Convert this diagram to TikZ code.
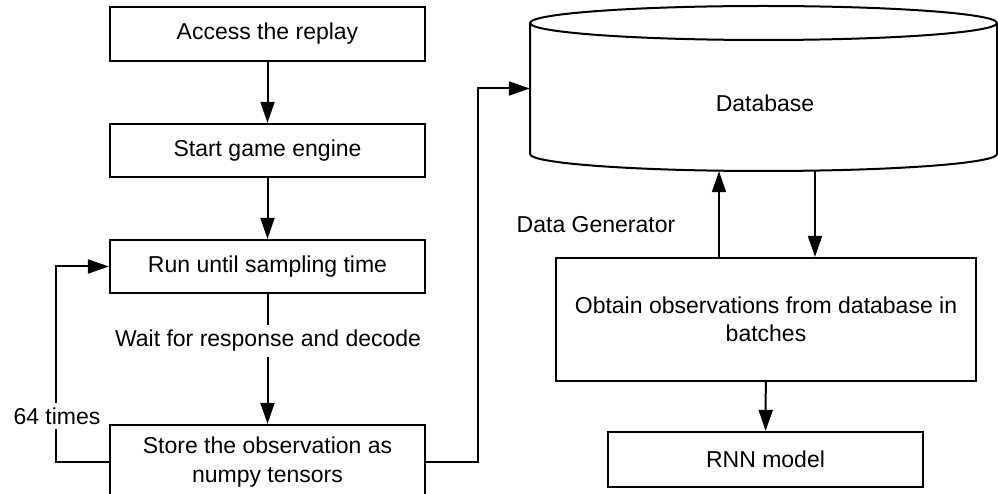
\documentclass[tikz,border=0pt]{standalone}
\usepackage{fontspec}
\setmainfont{Liberation Sans}
\usetikzlibrary{arrows.meta}
\begin{document}
\begin{tikzpicture}[x=1pt,y=-1pt,
  txt/.style={font=\fontsize{23}{28.5}\selectfont, align=center, inner sep=0pt},
  box/.style={txt, draw, line width=2.2pt},
  lbl/.style={txt, fill=white, inner sep=5pt},
  conn/.style={line width=2pt},
  arr/.style={conn, -{Triangle[length=21pt,width=14pt]}}]
\useasboundingbox (0,0) rectangle (998,494);
\clip (0,0) rectangle (998,494);
% left column
\node[box, minimum width=315pt, minimum height=54pt] (acc) at (267.5,34) {Access the replay};
\node[box, minimum width=315pt, minimum height=53pt] (eng) at (267.5,150.5) {Start game engine};
\node[box, minimum width=315pt, minimum height=53pt] (run) at (267.5,266.5) {Run until sampling time};
\node[box, minimum width=315pt, minimum height=74pt] (sto) at (267.5,462) {Store the observation as\\numpy tensors};
% database
\draw[line width=2pt] (530,23) -- (530,154) arc[start angle=180, end angle=360, x radius=233.5pt, y radius=17pt] -- (997,23);
\draw[line width=2pt] (763.5,23) ellipse[x radius=233.5pt, y radius=17pt];
\node[minimum width=467pt, minimum height=165pt, inner sep=0pt] (db) at (763.5,88.5) {};
\node[txt] (dbtxt) at (765,103) {Database};
% right column
\node[box, minimum width=420pt, minimum height=123pt] (obt) at (766,319.5) {Obtain observations from database in\\batches};
\node[box, minimum width=315pt, minimum height=55pt] (rnn) at (765.5,459.5) {RNN model};
\node[txt] (dg) at (596,225) {Data Generator};
% connectors
\draw[arr] (acc) -- (eng);
\draw[arr] (eng) -- (run);
\draw[arr] (run) -- (sto);
\node[lbl] (wait) at (268,341) {Wait for response and decode};
\draw[arr] (sto.west) -- ++(-53,0) |- (run.west);
\node[lbl] (times) at (57,416) {64 times};
\draw[arr] (sto.east) -- ++(52,0) |- (db.west);
\draw[arr] ([xshift=-47pt]obt.north) -- ([xshift=-44.5pt]db.south);
\draw[arr] ([xshift=51.5pt]db.south) -- ([xshift=49pt]obt.north);
\draw[arr] (obt) -- (rnn);
\end{tikzpicture}
\end{document}
